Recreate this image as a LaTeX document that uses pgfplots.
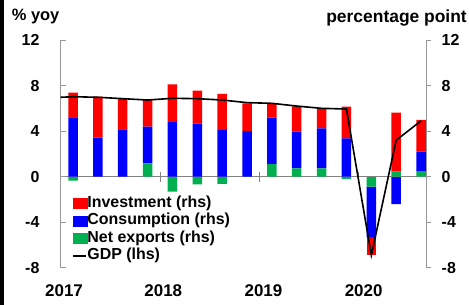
\documentclass[border=0pt]{standalone}
\usepackage{fontspec}
\setmainfont{Liberation Sans}
\usepackage{pgfplots}
\pgfplotsset{compat=1.18}
\usepackage{pgfplotstable}

\definecolor{inv}{RGB}{255,0,0}
\definecolor{con}{RGB}{0,0,255}
\definecolor{nex}{RGB}{0,176,80}
\definecolor{axgray}{RGB}{150,150,150}
\definecolor{zgray}{RGB}{130,130,130}

% quarterly contributions, split into positive and negative parts
\pgfplotstableread{
x  nxp  cp    ip    nxn   cn    in
0  0    5.21  2.16  -0.35 0     0
1  0    3.42  3.60  0     0     0
2  0    4.16  2.72  0     0     0
3  1.17 3.22  2.34  0     0     0
4  0    4.80  3.31  -1.32 0     0
5  0    4.66  2.89  -0.67 0     0
6  0    4.10  3.16  -0.64 0     0
7  0    4.01  2.43  0     0     0
8  1.11 4.07  1.26  0     0     0
9  0.73 3.22  2.23  0     0     0
10 0.73 3.52  1.72  0     0     0
11 0    3.37  2.78  -0.20 0     0
12 0    0     0     -0.88 -4.44 -1.55
13 0.44 0     5.18  0     -2.40 0
14 0.44 1.76  2.78  0     0     0
}\bars

\pgfplotstableread{
x    gdp
-0.5 6.97
0    7.02
1    6.97
2    6.85
3    6.73
4    6.88
5    6.85
6    6.73
7    6.50
8    6.44
9    6.20
10   6.00
11   5.94
12   -6.90
13   3.20
14   4.90
}\gdp

\pgfplotsset{
  base/.style={
    scale only axis, width=365.4bp, height=227.8bp,
    xmin=-0.5, xmax=14.2, ymin=-8, ymax=12,
    at={(60.6bp,37.2bp)}, anchor=south west,
    /pgf/number format/assume math mode=true,
    ticklabel style={font=\fontsize{16}{18}\selectfont\bfseries},
  },
}

\begin{document}
\begin{tikzpicture}
\useasboundingbox (0,0) rectangle (469bp,305bp);
\fill[black] (0,0) rectangle (3.5bp,305bp);

% negative parts of the bars
\begin{axis}[base, hide axis, ybar stacked, bar width=9.5bp]
  \draw[zgray, line width=0.8bp] (axis cs:-0.5,0) -- (axis cs:14.2,0);
  \draw[zgray, line width=0.8bp] (axis cs:3.5,-0.44) -- (axis cs:3.5,0.44);
  \draw[zgray, line width=0.8bp] (axis cs:7.5,-0.44) -- (axis cs:7.5,0.44);
  \draw[zgray, line width=0.8bp] (axis cs:11.5,-0.44) -- (axis cs:11.5,0.44);
  \addplot[fill=nex, draw=none] table[x=x, y=nxn] {\bars};
  \addplot[fill=con, draw=none] table[x=x, y=cn] {\bars};
  \addplot[fill=inv, draw=none] table[x=x, y=in] {\bars};
\end{axis}

% positive parts of the bars, right-hand axis
\begin{axis}[base, ybar stacked, bar width=9.5bp,
  axis x line=none, axis y line*=right,
  ytick={-8,-4,0,4,8,12},
  tick align=outside, major tick length=5bp,
  y axis line style={axgray, line width=0.8bp},
  ytick style={axgray, line width=0.8bp},
  yticklabel style={anchor=west, inner sep=0pt, xshift=10.5bp},
]
  \addplot[fill=nex, draw=none] table[x=x, y=nxp] {\bars};
  \addplot[fill=con, draw=none] table[x=x, y=cp] {\bars};
  \addplot[fill=inv, draw=none] table[x=x, y=ip] {\bars};
\end{axis}

% GDP, left-hand axis
\begin{axis}[base,
  axis y line*=left, axis x line*=bottom,
  x axis line style={draw=none},
  ytick={-8,-4,0,4,8,12},
  tick align=inside, major tick length=5bp,
  y axis line style={axgray, line width=0.8bp},
  ytick style={axgray, line width=0.8bp},
  yticklabel style={anchor=east, inner sep=0pt, xshift=-21bp},
  xtick={-0.36,3.63,7.66,11.69},
  xticklabels={2017,2018,2019,2020},
  xtick style={draw=none},
  xticklabel style={anchor=base, inner sep=0pt, yshift=-28.2bp, font=\fontsize{17}{19}\selectfont\bfseries},
  legend style={at={(axis description cs:0.032,0.314)}, anchor=north west,
    draw=none, fill=none, inner sep=0pt, row sep=3.5bp,
    font=\fontsize{16}{17}\selectfont\bfseries,
    nodes={inner sep=0pt, text height=11bp, text depth=3bp}},
  legend cell align=left,
]
  \addlegendimage{legend image code/.code={\fill[inv] (0bp,-5bp) rectangle (14bp,5bp);}}
  \addlegendentry{Investment (rhs)}
  \addlegendimage{legend image code/.code={\fill[con] (0bp,-5bp) rectangle (14bp,5bp);}}
  \addlegendentry{Consumption (rhs)}
  \addlegendimage{legend image code/.code={\fill[nex] (0bp,-5bp) rectangle (14bp,5bp);}}
  \addlegendentry{Net exports (rhs)}
  \addlegendimage{legend image code/.code={\draw[black, line width=1.5bp] (0bp,0bp) -- (13bp,0bp);}}
  \addlegendentry{GDP (lhs)}
  \addplot[black, line width=1.6bp, forget plot] table[x=x, y=gdp] {\gdp};
\end{axis}

\node[anchor=base west, inner sep=0pt, font=\fontsize{16.5}{18}\selectfont\bfseries] at (11.7bp,284bp) {\% yoy};
\node[anchor=base east, inner sep=0pt, font=\fontsize{17.5}{19}\selectfont\bfseries] at (467bp,282bp) {percentage point};
\end{tikzpicture}
\end{document}
